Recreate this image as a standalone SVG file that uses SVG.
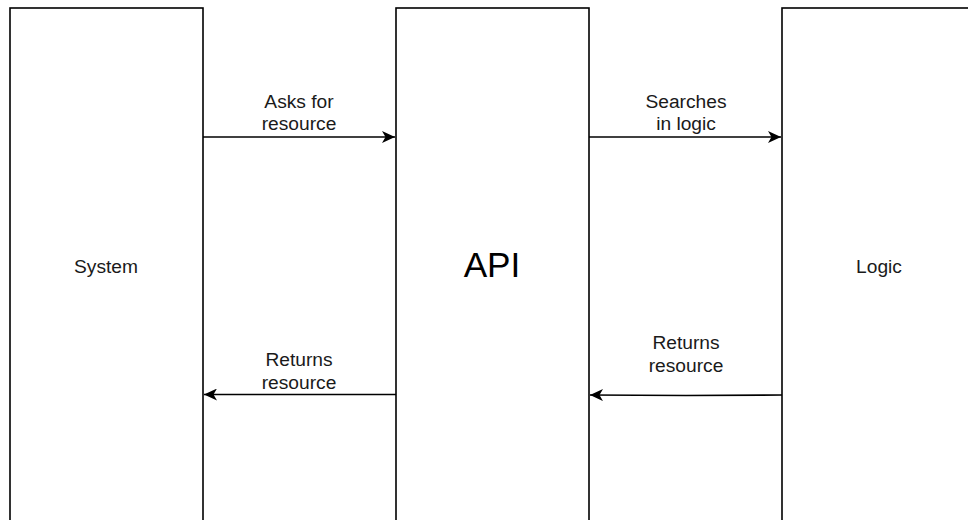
<svg xmlns="http://www.w3.org/2000/svg" width="968" height="520" viewBox="0 0 968 520">
<style>
.box{fill:#fff;stroke:#000;stroke-width:1.6}
.edge{fill:none;stroke:#000;stroke-width:1.6}
.lbl{font-family:"Liberation Sans",Arial,sans-serif;font-size:19.2px;fill:#1a1a1a;text-anchor:middle}
.big{font-family:"Liberation Sans",Arial,sans-serif;font-size:35.2px;fill:#000;text-anchor:middle}
</style>
<defs>
<marker id="arr" markerUnits="userSpaceOnUse" viewBox="0 0 14 12" refX="13" refY="6" markerWidth="14" markerHeight="12" orient="auto">
<path d="M13,6 L0,0 L3.5,6 L0,12 Z" fill="#000"/>
</marker>
</defs>
<rect width="968" height="520" fill="#fff"/>
<g id="system">
<rect class="box" x="10" y="8" width="193" height="530"/>
<text class="lbl" x="106" y="273">System</text>
</g>
<g id="api">
<rect class="box" x="396" y="8" width="193" height="530"/>
<text class="big" x="492" y="277">API</text>
</g>
<g id="logic">
<rect class="box" x="782" y="8" width="193" height="530"/>
<text class="lbl" x="879" y="273">Logic</text>
</g>
<g id="connectors">
<path class="edge" d="M203,137 L395,137" marker-end="url(#arr)"/>
<path class="edge" d="M589,137 L781,137" marker-end="url(#arr)"/>
<path class="edge" d="M396,394.5 L204,394.5" marker-end="url(#arr)"/>
<path class="edge" d="M782,395 L686,395.5 L590,395" marker-end="url(#arr)"/>
<text class="lbl" x="299" y="108">Asks for</text>
<text class="lbl" x="299" y="130">resource</text>
<text class="lbl" x="686" y="108">Searches</text>
<text class="lbl" x="686" y="130">in logic</text>
<text class="lbl" x="299" y="366">Returns</text>
<text class="lbl" x="299" y="389">resource</text>
<text class="lbl" x="686" y="349">Returns</text>
<text class="lbl" x="686" y="372">resource</text>
</g>
</svg>
